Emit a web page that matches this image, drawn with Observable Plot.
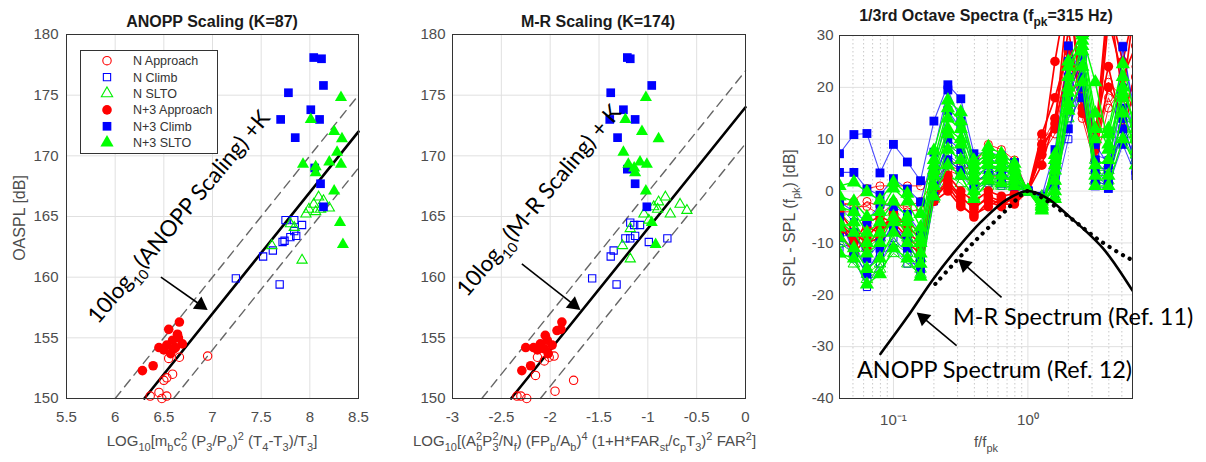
<!DOCTYPE html>
<html><head><meta charset="utf-8">
<script src="https://cdn.jsdelivr.net/npm/d3@7"></script>
<script src="https://cdn.jsdelivr.net/npm/@observablehq/plot@0.6"></script>
<style>
html,body{margin:0;padding:0;background:#fff;}
#wrap{position:relative;width:1206px;height:462px;overflow:hidden;background:#fff;}
.panel{position:absolute;top:0;}
#overlay{position:absolute;left:0;top:0;pointer-events:none;}
text{white-space:pre;}
</style></head><body><div id="wrap"></div>
<script>
// ---------- ticks ----------
const anoppXTicks = [5.5, 6, 6.5, 7, 7.5, 8, 8.5];
const mrXTicks = [-3, -2.5, -2, -1.5, -1, -0.5, 0];
const oasplTicks = [150, 155, 160, 165, 170, 175, 180];
const specYTicks = [-40, -30, -20, -10, 0, 10, 20, 30];
const specXMajor = [0.1, 1];
const specXMinor = [0.05, 0.06, 0.07, 0.08, 0.09, 0.2, 0.3, 0.4, 0.5, 0.6, 0.7, 0.8, 0.9, 2, 3, 4, 5];
const specXLabels = ["10\u207B\u00B9", "10\u2070"];

// ---------- legend / group names ----------
const groupNames = ["N Approach", "N Climb", "N SLTO", "N+3 Approach", "N+3 Climb", "N+3 SLTO"];
const groupColors = ["#ff0000", "#0000ff", "#00ee00", "#ff0000", "#0000ff", "#00ff00"];
const groupSymbols = ["circle", "square", "triangle", "circle", "square", "triangle"];
const groupFilled = [false, false, false, true, true, true];

// ---------- ANOPP scaling scatter [x, OASPL] ----------
const anoppNApproach = [[6.55,153.3],[6.66,153.4],[6.95,153.5],[6.59,152.0],[6.50,151.5],[6.53,151.7],[6.45,150.5],[6.36,150.2],[6.53,150.2],[6.48,150.0]];
const anoppNClimb = [[7.24,159.9],[7.69,159.4],[7.52,161.7],[7.62,162.2],[7.72,162.9],[7.74,163.0],[7.80,163.3],[7.86,163.4],[7.84,163.8],[7.75,164.7],[7.92,164.3],[7.84,164.7]];
const anoppNSlto = [[8.09,166.6],[8.04,166.0],[7.99,165.6],[8.11,165.6],[8.20,165.7],[7.96,165.2],[8.06,165.4],[7.80,164.4],[7.84,164.1],[7.61,162.6],[7.92,161.4],[8.14,166.3]];
const anoppN3Approach = [[6.28,152.3],[6.39,152.7],[6.45,154.2],[6.50,154.0],[6.57,153.7],[6.55,155.7],[6.64,155.3],[6.66,156.3],[6.62,154.2],[6.69,154.5],[6.53,154.4],[6.59,154.8],[6.65,155.0],[6.60,154.1]];
const anoppN3Climb = [[8.04,178.1],[8.12,178.0],[7.78,175.2],[8.14,175.8],[7.70,173.0],[8.01,173.8],[8.10,173.0],[7.85,171.5],[8.05,169.0],[8.11,167.7],[8.14,165.8]];
const anoppN3Slto = [[8.32,174.8],[8.01,173.0],[8.25,172.0],[8.33,171.4],[7.93,169.3],[8.06,169.1],[8.06,168.6],[8.20,169.5],[8.28,170.3],[8.32,169.3],[8.25,167.1],[8.31,164.5],[8.34,162.7]];

// ---------- M-R scaling scatter [x, OASPL] ----------
const mrNApproach = [[-2.30,150.2],[-2.24,150.0],[-1.95,150.6],[-1.76,151.5],[-2.15,151.9],[-2.06,153.1],[-1.96,153.5],[-2.13,153.4],[-2.01,153.4],[-2.34,150.2]];
const mrNClimb = [[-1.57,159.9],[-1.32,159.4],[-1.38,161.7],[-1.35,162.2],[-1.23,163.2],[-1.18,163.2],[-1.13,163.4],[-1.14,164.3],[-1.08,164.3],[-0.99,162.9],[-0.80,163.2],[-1.18,164.5]];
const mrNSlto = [[-0.82,166.6],[-0.89,166.2],[-0.67,166.0],[-0.60,165.5],[-0.77,165.2],[-0.94,165.8],[-1.04,165.2],[-1.18,164.0],[-1.26,162.6],[-1.18,161.5],[-0.99,164.7],[-0.90,165.6]];
const mrN3Approach = [[-2.29,152.3],[-2.20,152.7],[-2.25,154.2],[-2.13,154.0],[-2.10,154.5],[-2.03,154.8],[-2.05,155.2],[-1.93,155.6],[-1.88,156.3],[-1.89,155.7],[-2.06,154.1],[-2.17,154.2],[-1.98,154.4],[-2.02,153.7]];
const mrN3Climb = [[-1.21,178.1],[-1.18,178.0],[-1.38,175.2],[-0.96,175.8],[-1.39,173.0],[-1.25,173.8],[-1.13,173.0],[-1.31,171.5],[-1.21,168.9],[-1.13,167.7],[-1.01,165.8]];
const mrN3Slto = [[-1.02,174.8],[-1.23,173.0],[-1.06,172.0],[-0.89,171.4],[-1.25,170.3],[-1.20,169.3],[-1.14,169.0],[-1.13,168.6],[-1.08,169.5],[-1.01,169.3],[-1.02,167.1],[-0.96,164.5],[-0.92,162.7]];

// ---------- reference lines (fit +K and +/-3 dB) ----------
const anoppFitX = [6.3, 8.5], anoppFitY = [150, 172];
const anoppUpperX = [6.0, 8.5], anoppUpperY = [150, 175];
const anoppLowerX = [6.6, 8.5], anoppLowerY = [150, 169];
const mrFitX = [-2.4, 0], mrFitY = [150, 174];
const mrUpperX = [-2.7, 0], mrUpperY = [150, 177];
const mrLowerX = [-2.1, 0], mrLowerY = [150, 171];

// ---------- annotation arrows (data coords) ----------
const anoppArrow = {x1: 6.47, y1: 160.0, x2: 6.95, y2: 157.3};
const mrArrow = {x1: -2.29, y1: 161.1, x2: -1.69, y2: 157.3};
const mrSpecArrow = {x1: 0.637, y1: -20.5, x2: 0.303, y2: -13.1};
const anoppSpecArrow = {x1: 0.295, y1: -29.8, x2: 0.149, y2: -23.4};

// ---------- 1/3 octave spectra ----------
const bandF = [0.0397,0.0508,0.0635,0.0794,0.1,0.127,0.159,0.2,0.254,0.317,0.397,0.508,0.635,0.794,1,1.27,1.59,2.0,2.54,3.17,3.97,5.08,6.35];
const nApproachSpec = [
  [-2,-3,-3,-4.5,-2.5,-3,-2,2,5,4,5,9,8,6,0,9,14,28,18,6,21,18,20],
  [-3,-2,0.5,1,1,1,1,3,6,5,4,7,6,5,0,10,12,26,16,8,18,12,24],
  [-4,-4,-2,-3,-2,-4,-3.5,1,4,3,1.5,3,2.5,2,0,7,11,24,14,5,16,20,15]
];
const nClimbSpec = [
  [-3,-6,-10,-8,-4,-7,-11,3,9,7,3,4.5,3,2,0,-2,3,14,22,7,6,18,9],
  [-8,-13,-18.5,-14,-9,-12,-16,-2,5,3,0.5,1.5,1,0.5,0,-3.5,-1,10,24,4,2.5,28,12],
  [-11,-10,-15,-12,-11,-14,-14,0,7,5,2,3,2,1.5,0,-1,4,16,19,3,1,20,10]
];
const nSltoSpec = [
  [-10,-12,-16,-14,-10,-12,-15,0,6,4,0,2,2,1.5,0,-2,-1,16,20,2,2,12,6],
  [-4,-7,-11,-9,-4,-9,-13,2,9,7,1,4,3.5,2.5,0,-3,1,18,22,4,4,14,7],
  [-12,-14,-17,-15,-12,-14,-16,-1.5,3,1.5,-1,1,1,0.8,0,-1,2,14,18,6,5,11,5]
];
const n3ApproachSpec = [
  [-6,-9,-11,-7,-5,-8,-10,-1,2,-1,-3.5,-1,-2,-1.5,0,9,12,38,20,10,38,18,38],
  [-5,-11,-7,-8,-6,-9,-11,-0.5,1,-2.5,-5,-2,-3,-1,0,7,25,40,15,8,36,25,36],
  [-8,-12,-9,-6,-7,-10,-12,0.5,3,0,-2,0,-1,-0.5,0,11,18,27,18,12,24,12,20],
  [-4,-8,-10,-9,-4,-7,-9,-2,0,-3,-4.5,-3,-1.5,-2,0,5,14,31,16,6,33,22,28],
  [-7,-10,-6,-5,-6,-6,-8,-1.5,1.5,-1.5,-3,-1.5,-2.5,-2.5,0,8,13,24,21,9,20,15,22]
];
const n3ClimbSpec = [
  [7.2,10.9,11.1,3.5,9.0,5.6,2.0,13.5,20.5,17.8,7.2,7.5,6.8,5.5,0,-2.0,5.0,28.0,22.0,1.0,0.5,16.0,8.0],
  [3.6,3.6,0.4,-0.8,2.4,0.4,-2.1,7.5,19.5,13.5,6.0,6.5,5.0,4.5,0,-1.0,8.0,25.0,24.0,4.0,1.5,27.8,14.0],
  [-2.0,-4.0,-6.0,-2.5,-3.0,-4.5,-8.0,4.0,15.5,12.0,4.0,5.0,4.0,3.0,0,-2.5,3.0,22.0,18.0,6.0,3.0,12.0,6.0],
  [-9.0,-8.0,-13.0,-10.0,-7.0,-9.0,-15.0,1.0,10.0,8.0,2.0,3.0,3.5,2.0,0,-3.0,1.0,18.0,26.0,9.0,5.0,14.0,4.0],
  [-5.0,-12.0,-16.0,-11.0,-6.0,-11.0,-13.0,-1.0,6.0,4.0,1.0,2.0,1.5,1.0,0,-1.5,2.0,12.0,20.0,2.0,1.0,9.0,3.0]
];
const n3SltoSpec = [
  [1.0,1.7,-0.2,-1.8,1.7,-0.5,-4.4,7.8,17.5,15.2,5.9,8.5,7.2,5.3,0,-3.5,7.0,25.0,30.5,12.0,12.0,24.5,14.0],
  [-3.0,-4.0,-8.0,-6.0,-2.0,-5.0,-9.0,5.0,14.0,12.0,4.0,7.0,6.0,4.0,0,-2.5,4.0,22.0,30.0,21.0,9.0,20.0,12.0],
  [-6.0,-8.0,-12.0,-10.0,-5.0,-8.0,-12.0,3.0,11.0,9.0,2.0,5.0,4.5,3.0,0,-3.0,2.0,19.0,27.0,5.0,6.0,18.0,10.0],
  [-9.0,-11.0,-15.0,-13.0,-8.0,-10.0,-14.0,1.0,8.0,6.0,0.0,3.0,3.0,2.0,0,-2.0,0.0,17.0,24.0,3.0,3.0,15.0,8.0],
  [-12.0,-13.0,-18.0,-16.0,-11.0,-13.0,-16.5,-1.0,5.0,3.0,-1.5,2.0,1.5,1.0,0,-1.5,-1.5,15.5,21.0,1.0,1.0,10.0,5.0],
  [-7.0,-6.0,-10.0,-8.0,-6.0,-6.0,-10.0,4.0,12.0,10.0,3.0,6.0,5.0,4.0,0,-3.7,5.0,20.0,28.0,10.0,11.0,22.0,11.0],
  [-1.0,-2.0,-5.0,-4.0,0.5,-2.0,-7.0,6.0,16.0,13.5,5.0,7.5,6.5,4.5,0,-2.8,6.0,24.0,29.0,15.0,8.0,19.0,13.0]
];
const anoppSpecF = [0.08, 0.126, 0.2, 0.3, 0.45, 0.7, 1.0, 1.4, 2.05, 2.72, 3.61, 4.5, 6.0];
const anoppSpecY = [-31.4, -24.4, -16.8, -11.0, -5.9, -1.6, 0, -1.4, -5.0, -7.8, -11.0, -14.3, -19.2];
const mrSpecF = [0.205, 0.295, 0.372, 0.493, 0.695, 0.872, 1.0, 1.37, 2.15, 3.4, 5.38, 6.0];
const mrSpecY = [-17.9, -13.4, -10.6, -7.4, -3.6, -1.0, 0, -1.8, -5.5, -9.5, -12.7, -13.3];

// ---------- styling ----------
const gridColor = "#e0e0e0";
const tickColor = "#4d4d4d";
const axisStyle = {fontFamily: "'Liberation Sans', Arial, sans-serif", fontSize: "15px", color: tickColor, background: "transparent", overflow: "visible"};
const H = 462;

function toRows(arr) { return arr.map(([x, y]) => ({x, y})); }
function lineRows(xs, ys) { return xs.map((x, i) => ({x, y: ys[i]})); }

function arrowMarks(a, xs, ys) {
  const p1 = [xs(a.x1), ys(a.y1)], p2 = [xs(a.x2), ys(a.y2)];
  const dx = p2[0] - p1[0], dy = p2[1] - p1[1], L = Math.hypot(dx, dy);
  const ux = dx / L, uy = dy / L;
  const r = 5.5, size = Math.PI * r * r, half = Math.sqrt(size / (3 * Math.sqrt(3)));
  const back = 2 * half;
  const cx = xs.invert(p2[0] - ux * back), cy = ys.invert(p2[1] - uy * back);
  const rot = Math.atan2(ux, -uy) * 180 / Math.PI;
  const d = [{x1: a.x1, y1: a.y1, x2: cx, y2: cy}];
  return [
    Plot.link(d, {x1: "x1", y1: "y1", x2: "x2", y2: "y2", stroke: "#000", strokeWidth: 1.6}),
    Plot.dot(d, {x: "x2", y: "y2", symbol: "triangle", r, fill: "#000", stroke: "none", rotate: rot})
  ];
}

const scatterSizes = {circle: [4.2, 4.8], square: [4.1, 4.9], triangle: [3.8, 4.5]};

function scatterPanel(cfg) {
  const W = cfg.width - cfg.ml - cfg.mr, Hh = H - cfg.mt - cfg.mb;
  const xs = d3.scaleLinear().domain(cfg.xDomain).range([0, W]);
  const ys = d3.scaleLinear().domain([150, 180]).range([Hh, 0]);
  const marks = [
    Plot.ruleX(cfg.xTicks, {stroke: gridColor, strokeWidth: 1}),
    Plot.ruleY(oasplTicks, {stroke: gridColor, strokeWidth: 1}),
    Plot.line(lineRows(cfg.upper[0], cfg.upper[1]), {x: "x", y: "y", stroke: "#666", strokeWidth: 1.4, strokeDasharray: "9,6"}),
    Plot.line(lineRows(cfg.lower[0], cfg.lower[1]), {x: "x", y: "y", stroke: "#666", strokeWidth: 1.4, strokeDasharray: "9,6"}),
    Plot.line(lineRows(cfg.fit[0], cfg.fit[1]), {x: "x", y: "y", stroke: "#000", strokeWidth: 2.6})
  ];
  cfg.groups.forEach((g, i) => {
    const sym = groupSymbols[i], filled = groupFilled[i];
    marks.push(Plot.dot(toRows(g), {
      x: "x", y: "y", symbol: sym, r: scatterSizes[sym][filled ? 1 : 0],
      fill: filled ? groupColors[i] : "none", stroke: filled ? "none" : groupColors[i], strokeWidth: 1.1
    }));
  });
  marks.push(...arrowMarks(cfg.arrow, xs, ys));
  marks.push(Plot.frame({stroke: "#333", strokeWidth: 1}));
  return Plot.plot({
    width: cfg.width, height: H,
    marginLeft: cfg.ml, marginRight: cfg.mr, marginTop: cfg.mt, marginBottom: cfg.mb,
    style: axisStyle,
    x: {domain: cfg.xDomain, ticks: cfg.xTicks, tickFormat: d => String(d), tickSize: 0, tickPadding: 13, label: null},
    y: {domain: [150, 180], ticks: oasplTicks, tickFormat: d => String(d), tickSize: 0, tickPadding: cfg.ypad, label: null},
    marks
  });
}

function spectraPanel(cfg) {
  const W = cfg.width - cfg.ml - cfg.mr, Hh = H - cfg.mt - cfg.mb;
  const xDomain = [0.0397, 6.0], yDomain = [-40, 30];
  const xs = d3.scaleLog().domain(xDomain).range([0, W]);
  const ys = d3.scaleLinear().domain(yDomain).range([Hh, 0]);
  const sets = [nApproachSpec, nClimbSpec, nSltoSpec, n3ApproachSpec, n3ClimbSpec, n3SltoSpec];
  const lineW = [1, 1, 1, 1.7, 1.1, 1.4];
  const lineOp = [0.85, 0.7, 0.9, 1, 0.7, 1];
  const dotR = [4, 4, 4.3, 4.8, 5, 5.3];
  const marks = [
    Plot.ruleX(specXMinor, {stroke: "#c8c8c8", strokeWidth: 1, strokeDasharray: "1.5,2.5"}),
    Plot.ruleX(specXMajor, {stroke: gridColor, strokeWidth: 1}),
    Plot.ruleY(specYTicks, {stroke: gridColor, strokeWidth: 1})
  ];
  sets.forEach((set, gi) => {
    const rows = [];
    set.forEach((s, si) => s.forEach((v, bi) => rows.push({f: bandF[bi], v, id: si})));
    const filled = groupFilled[gi];
    marks.push(Plot.line(rows, {x: "f", y: "v", z: "id", stroke: groupColors[gi], strokeWidth: lineW[gi], strokeOpacity: lineOp[gi], clip: true}));
    marks.push(Plot.dot(rows, {x: "f", y: "v", symbol: groupSymbols[gi], r: dotR[gi],
      fill: filled ? groupColors[gi] : "none", stroke: filled ? "none" : groupColors[gi], strokeWidth: 1, clip: true}));
  });
  marks.push(Plot.line(lineRows(anoppSpecF, anoppSpecY), {x: "x", y: "y", stroke: "#000", strokeWidth: 2.6, curve: "catmull-rom", clip: true}));
  marks.push(Plot.line(lineRows(mrSpecF, mrSpecY), {x: "x", y: "y", stroke: "#000", strokeWidth: 4.2, strokeDasharray: "0.1,7.6", strokeLinecap: "round", curve: "catmull-rom", clip: true}));
  marks.push(...arrowMarks(mrSpecArrow, xs, ys));
  marks.push(...arrowMarks(anoppSpecArrow, xs, ys));
  marks.push(Plot.frame({stroke: "#333", strokeWidth: 1}));
  return Plot.plot({
    width: cfg.width, height: H,
    marginLeft: cfg.ml, marginRight: cfg.mr, marginTop: cfg.mt, marginBottom: cfg.mb,
    style: axisStyle,
    x: {type: "log", domain: xDomain, ticks: specXMajor, tickFormat: (d) => specXLabels[specXMajor.indexOf(d)], tickSize: 0, tickPadding: 16, label: null},
    y: {domain: yDomain, ticks: specYTicks, tickFormat: d => String(d), tickSize: 0, tickPadding: 6, label: null},
    marks
  });
}

const wrap = document.getElementById("wrap");
function place(svg, left) {
  const d = document.createElement("div");
  d.className = "panel"; d.style.left = left + "px";
  d.appendChild(svg); wrap.appendChild(d);
}

place(scatterPanel({width: 400, ml: 66, mr: 42, mt: 34, mb: 64, ypad: 8, xDomain: [5.5, 8.5], xTicks: anoppXTicks,
  groups: [anoppNApproach, anoppNClimb, anoppNSlto, anoppN3Approach, anoppN3Climb, anoppN3Slto],
  fit: [anoppFitX, anoppFitY], upper: [anoppUpperX, anoppUpperY], lower: [anoppLowerX, anoppLowerY], arrow: anoppArrow}), 0);
place(scatterPanel({width: 390, ml: 52, mr: 45, mt: 34, mb: 64, ypad: 7, xDomain: [-3, 0], xTicks: mrXTicks,
  groups: [mrNApproach, mrNClimb, mrNSlto, mrN3Approach, mrN3Climb, mrN3Slto],
  fit: [mrFitX, mrFitY], upper: [mrUpperX, mrUpperY], lower: [mrLowerX, mrLowerY], arrow: mrArrow}), 400);
place(spectraPanel({width: 416, ml: 49, mr: 74, mt: 35, mb: 64}), 790);

// ---------- overlay text: titles, axis labels, annotations, legend ----------
const ov = d3.create("svg").attr("id", "overlay").attr("width", 1206).attr("height", 462);
const SANS = "'Liberation Sans', Arial, sans-serif";
const CAL = "Lato, 'Open Sans', sans-serif";

function richText(parent, x, y, parts, o) {
  const fs = o.fontSize, small = o.small || Math.round(fs * 0.68);
  const t = parent.append("text")
    .attr("font-family", o.family).attr("font-size", fs).attr("fill", o.fill)
    .attr("font-weight", o.weight || "normal").attr("text-anchor", o.anchor || "start")
    .attr("transform", `translate(${x},${y})` + (o.rotate ? ` rotate(${o.rotate})` : ""));
  let cur = 0;
  for (const p of parts) {
    const [s, kind, dx] = Array.isArray(p) ? p : [p, null, 0];
    const target = kind === "sub" ? fs * 0.33 : kind === "sup" ? -fs * 0.42 : 0;
    const ts = t.append("tspan").attr("dy", target - cur).text(s);
    if (kind) ts.attr("font-size", small);
    if (dx) ts.attr("dx", dx);
    cur = target;
  }
  return t;
}

const titleOpt = {family: SANS, fontSize: 16, fill: "#1a1a1a", weight: "bold", anchor: "middle", small: 12};
richText(ov, 212, 27, ["ANOPP Scaling (K=87)"], titleOpt);
richText(ov, 598, 27, ["M-R Scaling (K=174)"], titleOpt);
richText(ov, 986, 21, ["1/3rd Octave Spectra (f", ["pk", "sub"], "=315 Hz)"], titleOpt);

const labOpt = {family: SANS, fontSize: 15, fill: tickColor, small: 11};
richText(ov, 212, 446, ["LOG", ["10", "sub"], "[m", ["b", "sub"], "c", ["2", "sup"], ["o", "sub", -6], " (P", ["3", "sub"], "/P", ["o", "sub"], ")", ["2", "sup"], " (T", ["4", "sub"], "-T", ["3", "sub"], ")/T", ["3", "sub"], "]"], {...labOpt, anchor: "middle"});
richText(ov, 413, 446, ["LOG", ["10", "sub"], "[(A", ["2", "sup"], ["b", "sub", -6], "P", ["2", "sup"], ["3", "sub", -6], "/N", ["f", "sub"], ") (FP", ["b", "sub"], "/A", ["b", "sub"], ")", ["4", "sup"], " (1+H*FAR", ["st", "sub"], "/c", ["p", "sub"], "T", ["3", "sub"], ")", ["2", "sup"], " FAR", ["2", "sup"], "]"], {...labOpt, anchor: "start"});
richText(ov, 986, 447, ["f/f", ["pk", "sub"]], {...labOpt, anchor: "middle"});
richText(ov, 25, 218, ["OASPL [dB]"], {...labOpt, fontSize: 16, anchor: "middle", rotate: -90});
richText(ov, 795, 218, ["SPL - SPL (f", ["pk", "sub"], ") [dB]"], {...labOpt, fontSize: 16, anchor: "middle", rotate: -90});

const annOpt = {family: CAL, fontSize: 22.5, fill: "#000", small: 14, rotate: -50};
richText(ov, 98, 325, ["10log", ["10", "sub"], "(ANOPP Scaling) +K"], annOpt);
richText(ov, 467, 298, ["10log", ["10", "sub"], "(M-R Scaling) + K"], annOpt);
richText(ov, 953, 325, ["M-R Spectrum (Ref. 11)"], {family: CAL, fontSize: 23.4, fill: "#000"});
richText(ov, 857, 378, ["ANOPP Spectrum (Ref. 12)"], {family: CAL, fontSize: 23.4, fill: "#000"});

// legend
const lg = ov.append("g");
lg.append("rect").attr("x", 80.5).attr("y", 50.5).attr("width", 137).attr("height", 103)
  .attr("fill", "#fff").attr("stroke", "#333").attr("stroke-width", 1);
const symMap = {circle: d3.symbolCircle, square: d3.symbolSquare, triangle: d3.symbolTriangle};
groupNames.forEach((name, i) => {
  const y = 60.7 + i * 16.4;
  const sym = groupSymbols[i], filled = groupFilled[i];
  const r = scatterSizes[sym][filled ? 1 : 0] + (sym === "triangle" ? 0.4 : 0);
  lg.append("path").attr("transform", `translate(107,${y})`)
    .attr("d", d3.symbol(symMap[sym], Math.PI * r * r)())
    .attr("fill", filled ? groupColors[i] : "none").attr("stroke", filled ? "none" : groupColors[i]).attr("stroke-width", 1.1);
  lg.append("text").attr("x", 133).attr("y", y + 4.4).attr("font-family", SANS).attr("font-size", 12.5)
    .attr("fill", "#333").text(name);
});

wrap.appendChild(ov.node());
</script></body></html>
